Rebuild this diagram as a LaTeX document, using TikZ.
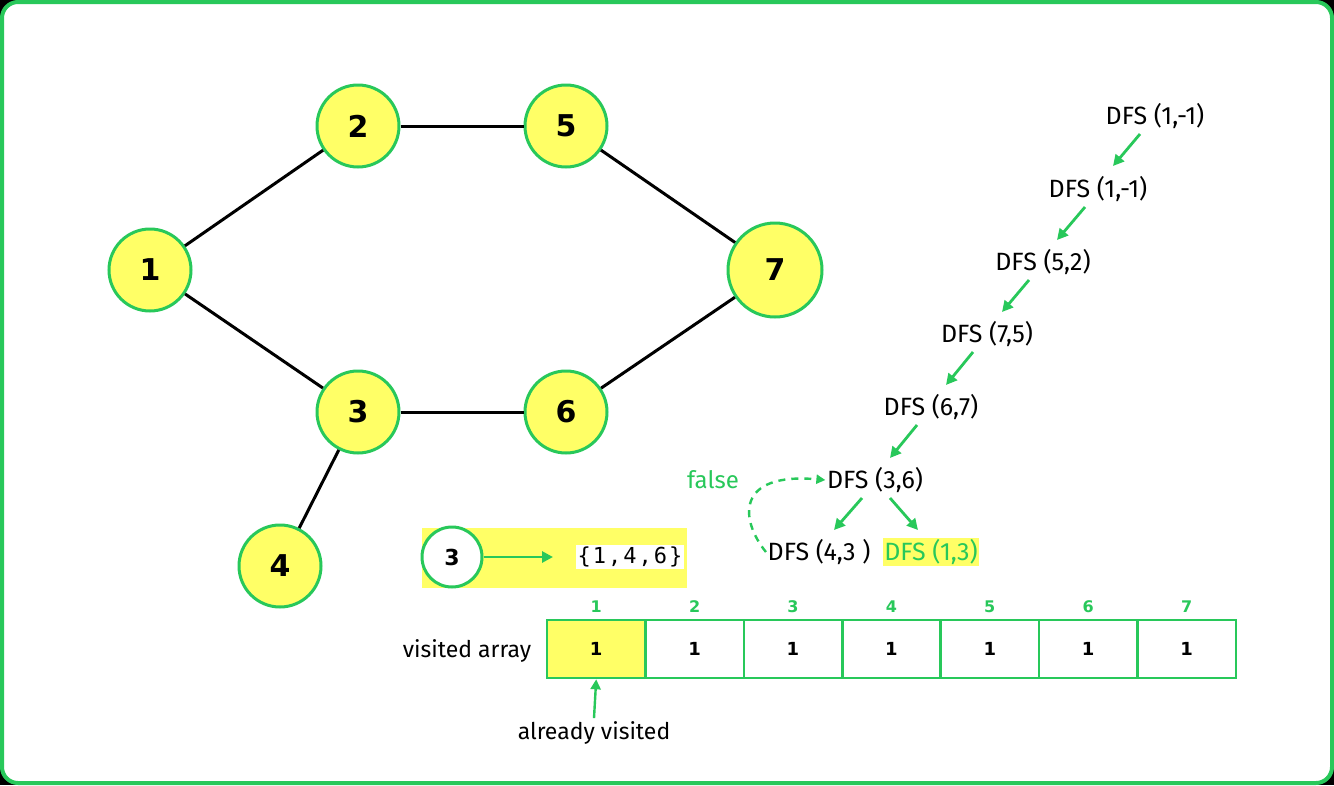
\documentclass[tikz,border=0pt]{standalone}
\usepackage{fontspec}
\setmainfont{Fira Sans}
\newfontfamily\numfont{DejaVu Sans}
\newfontfamily\monofont{DejaVu Sans Mono}
\usetikzlibrary{arrows.meta}
\definecolor{gfg}{RGB}{40,200,90}
\definecolor{yel}{RGB}{255,255,102}
\tikzset{
  vtx/.style={circle,draw=gfg,line width=3pt,fill=yel,minimum size=82pt,inner sep=0pt,font=\numfont\bfseries\fontsize{30}{32}\selectfont},
  edge/.style={black,line width=3pt},
  call/.style={inner sep=1.5pt,font=\fontsize{25}{28}\selectfont},
  garrow/.style={gfg,line width=2.8pt,-{Triangle[length=11pt,width=11pt]}},
  cell/.style={draw=gfg,line width=2.6pt,minimum width=98.4pt,minimum height=58pt,inner sep=0pt,font=\numfont\bfseries\fontsize{18}{20}\selectfont},
  idx/.style={text=gfg,font=\numfont\bfseries\fontsize{16}{18}\selectfont},
  lbl/.style={font=\fontsize{23}{26}\selectfont}
}
\newcommand{\gp}{\hspace{2pt}}
\begin{document}
\begin{tikzpicture}[x=1pt,y=-1pt]
\useasboundingbox (0,0) rectangle (1334,785);
\fill[black] (0,0) rectangle (1334,785);
\draw[gfg,line width=4pt,fill=white,rounded corners=16pt] (2,2) rectangle (1332,783);
% graph
\node[vtx] (n1) at (150,270) {1};
\node[vtx] (n2) at (358,126) {2};
\node[vtx] (n5) at (566,126) {5};
\node[vtx,minimum size=94pt] (n7) at (775,270) {7};
\node[vtx] (n3) at (358,412) {3};
\node[vtx] (n6) at (566,412) {6};
\node[vtx] (n4) at (280,566) {4};
\draw[edge] (n1) -- (n2);
\draw[edge] (n1) -- (n3);
\draw[edge] (n2) -- (n5);
\draw[edge] (n5) -- (n7);
\draw[edge] (n7) -- (n6);
\draw[edge] (n3) -- (n6);
\draw[edge] (n3) -- (n4);
% DFS calls
\node[call] (c1) at (1155,116) {DFS (1,-1)};
\node[call] (c2) at (1098,189) {DFS (1,-1)};
\node[call] (c3) at (1043,262) {DFS (5,2)};
\node[call] (c4) at (987,334) {DFS (7,5)};
\node[call] (c5) at (931,407) {DFS (6,7)};
\node[call] (c6) at (875,480) {DFS (3,6)};
\node[call] (c7) at (819,552) {DFS (4,3 )};
\node[call,fill=yel,text=gfg] (c8) at (931,552) {DFS (1,3)};
\node[call,text=gfg,font=\fontsize{24}{27}\selectfont] (fl) at (713,480) {false};
\draw[garrow] (1140,134) -- (1113,166);
\draw[garrow] (1085,207) -- (1057,240);
\draw[garrow] (1029,280) -- (1002,312);
\draw[garrow] (973,352) -- (946,385);
\draw[garrow] (917,425) -- (890,458);
\draw[garrow] (862,498) -- (834,530);
\draw[garrow] (890,498) -- (918,530);
\draw[gfg,line width=2.4pt,dash pattern=on 7pt off 6pt,-{Triangle[length=9pt,width=9pt]}]
  (c7.west) .. controls (740,520) and (735,472) .. (c6.west);
% legend
\node[fill=yel,minimum width=265pt,minimum height=60pt,inner sep=0pt] (leg) at (554.5,558) {};
\node[circle,draw=gfg,line width=3pt,fill=white,minimum size=60pt,inner sep=0pt,font=\numfont\bfseries\fontsize{22}{24}\selectfont] (lc) at (452,557) {3};
\node[fill=white,inner sep=2pt,font=\monofont\fontsize{22}{24}\selectfont] (set) at (630,557) {\{\gp1\gp,\gp4\gp,\gp6\gp\}};
\draw[gfg,line width=2.8pt,-{Triangle[length=11pt,width=11pt]}] (lc.east) -- (553,557);
% visited array
\foreach \i in {1,...,7} {
  \node[cell] (v\i) at ({547+98.4*(\i-0.5)},649) {1};
  \node[idx] (i\i) at ({547+98.4*(\i-0.5)},607) {\i};
}
\node[cell,fill=yel] at (v1) {1};
\node[lbl] (va) at (467,651) {visited array};
\node[lbl] (av) at (594,733) {already visited};
\draw[gfg,line width=2.4pt,-{Triangle[length=10pt,width=10pt]}] (av.north) -- (v1.south);
\end{tikzpicture}
\end{document}
